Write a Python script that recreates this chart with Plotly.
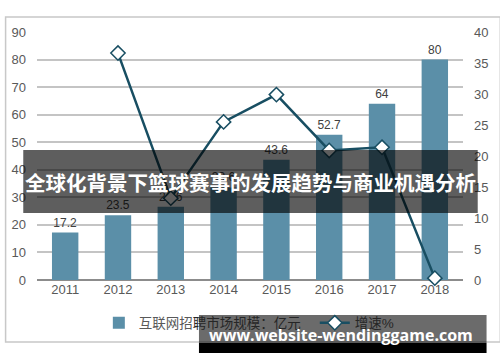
import plotly.graph_objects as go

years = ["2011", "2012", "2013", "2014", "2015", "2016", "2017", "2018"]
market = [17.2, 23.5, 26.6, 33.6, 43.6, 52.7, 64, 80]
market_labels = ["17.2", "23.5", "26.6", "33.6", "43.6", "52.7", "64", "80"]
growth = [None, 36.6, 13.2, 25.5, 29.9, 20.9, 21.4, 0.3]

bar_name = '互联网招<span style="color:#262626">聘市场规模：亿元</span>'
line_name = "增速%"
title_text = "全球化背景下篮球赛事的发展趋势与商业机遇分析"
watermark = "www.website-wendinggame.com"

W, H = 500, 362
L, R, T, B = 33, 33, 32, 82
pw, ph = W - L - R, H - T - B


def px(x):
    return (x - L) / pw


def py(y):
    return (H - B - y) / ph


fig = go.Figure()
fig.add_trace(go.Bar(
    x=years, y=market, name=bar_name, legend="legend",
    marker=dict(color="#5b8fa8", line=dict(width=0)),
    text=market_labels, textposition="outside", cliponaxis=False,
    textfont=dict(size=12, color="#404040", family="Liberation Sans, Arial"),
))
fig.add_trace(go.Scatter(
    x=years, y=growth, name=line_name, yaxis="y2", mode="lines+markers",
    legend="legend2",
    line=dict(color="#184e62", width=2.5),
    marker=dict(symbol="diamond", size=11, color="white",
                line=dict(color="#184e62", width=1.5)),
    cliponaxis=False,
))

font_fam = "Liberation Sans, Arial, Noto Sans CJK SC"
leg_common = dict(orientation="h", yanchor="middle", xanchor="left",
                  itemwidth=30, bgcolor="rgba(0,0,0,0)", borderwidth=0)
fig.update_layout(
    width=W, height=H,
    margin=dict(l=L, r=R, t=T, b=B),
    paper_bgcolor="white", plot_bgcolor="white",
    bargap=0.5,
    showlegend=True,
    legend=dict(x=px(96), y=py(323),
                font=dict(size=13.5, color="#595959", family=font_fam), **leg_common),
    legend2=dict(x=px(316), y=py(323),
                 font=dict(size=13.5, color="#262626", family=font_fam), **leg_common),
    xaxis=dict(showgrid=False, showline=False, ticks="",
               tickfont=dict(size=13, color="#595959", family=font_fam)),
    yaxis=dict(range=[0, 90], dtick=10, showgrid=True, gridcolor="#c4c4c4", gridwidth=2,
               zeroline=True, zerolinecolor="#8c8c8c", zerolinewidth=2,
               showline=False, ticks="", ticklabelstandoff=10,
               tickfont=dict(size=13, color="#595959", family=font_fam)),
    yaxis2=dict(range=[0, 40], dtick=5, overlaying="y", side="right", showgrid=False,
                zeroline=False, showline=False, ticks="", ticklabelstandoff=10,
                tickfont=dict(size=13, color="#595959", family=font_fam)),
    shapes=[
        dict(type="rect", xref="paper", yref="paper", x0=px(1), x1=px(505), y0=py(342), y1=py(17),
             line=dict(color="#c8c8c8", width=1.5), fillcolor="rgba(0,0,0,0)", layer="below"),
        dict(type="rect", xref="paper", yref="paper", x0=px(19), x1=px(482), y0=py(213), y1=py(150),
             line=dict(width=0), fillcolor="rgba(0,0,0,0.63)", layer="above"),
        dict(type="rect", xref="paper", yref="paper", x0=px(198), x1=px(491), y0=py(343), y1=py(315),
             line=dict(width=0), fillcolor="rgba(0,0,0,0.58)", layer="above"),
        dict(type="rect", xref="paper", yref="paper", x0=px(198), x1=px(491), y0=py(353), y1=py(343),
             line=dict(width=0), fillcolor="black", layer="above"),
    ],
    annotations=[
        dict(text="<b>" + title_text + "</b>", xref="paper", yref="paper", x=px(250.5), y=py(182),
             showarrow=False, xanchor="center", yanchor="middle",
             font=dict(size=20.5, color="white", family="Noto Sans CJK SC")),
        dict(text="<b>" + watermark + "</b>", xref="paper", yref="paper", x=px(343), y=py(335),
             showarrow=False, xanchor="center", yanchor="middle",
             font=dict(size=16, color="white", family="Open Sans")),
    ],
)

fig.write_html("out.html")
